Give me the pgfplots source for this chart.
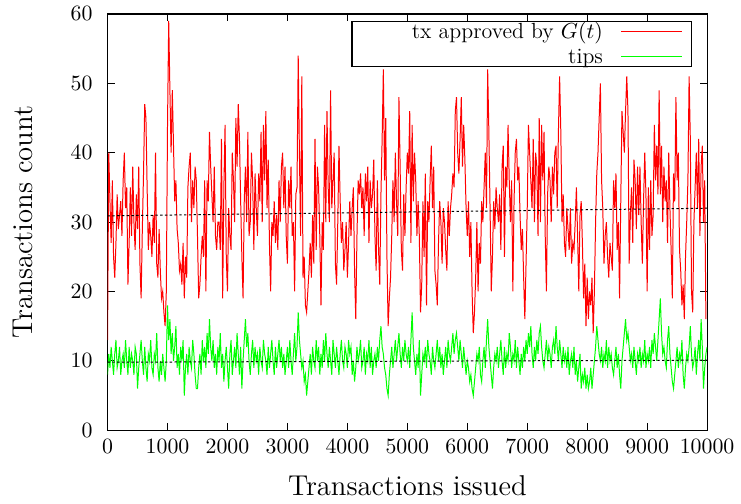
\documentclass[border=0pt]{standalone}
\usepackage{pgfplots}
\usepackage{pgfplotstable}
\pgfplotsset{compat=1.18}
\usetikzlibrary{calc}
% red: tx approved by G(t), one value every 20 transactions (0..10000)
\pgfplotstableread[header=false,row sep=\\]{
13\\40\\33\\27\\36\\25\\22\\27\\34\\29\\31\\33\\28\\36\\40\\32\\35\\21\\27\\35\\28\\38\\30\\26\\34\\
29\\38\\24\\19\\29\\37\\47\\45\\35\\26\\30\\28\\25\\31\\27\\40\\24\\22\\29\\23\\19\\20\\17\\15\\20\\
44\\59\\49\\40\\49\\41\\33\\36\\29\\27\\23\\24\\21\\27\\19\\25\\22\\35\\38\\40\\30\\36\\32\\38\\36\\
28\\19\\21\\25\\28\\25\\36\\20\\36\\33\\43\\38\\34\\30\\38\\28\\26\\30\\30\\26\\42\\19\\35\\44\\25\\
20\\32\\28\\26\\40\\36\\30\\45\\38\\47\\42\\33\\25\\19\\33\\38\\30\\43\\28\\30\\40\\36\\26\\37\\32\\
28\\37\\33\\43\\30\\44\\36\\46\\32\\39\\27\\20\\30\\28\\33\\27\\31\\26\\36\\30\\38\\40\\32\\38\\28\\
24\\36\\32\\38\\28\\30\\20\\34\\35\\54\\40\\28\\51\\22\\25\\18\\17\\20\\23\\27\\22\\31\\24\\42\\26\\
38\\35\\28\\18\\30\\26\\44\\30\\46\\35\\30\\49\\32\\36\\40\\24\\21\\30\\41\\33\\27\\30\\23\\26\\30\\
22\\27\\33\\28\\32\\35\\23\\16\\28\\36\\34\\37\\32\\35\\28\\37\\33\\38\\27\\36\\32\\34\\39\\28\\23\\
36\\26\\21\\34\\42\\52\\36\\45\\25\\15\\19\\22\\28\\36\\30\\40\\33\\28\\48\\38\\26\\23\\34\\28\\35\\
40\\37\\46\\27\\44\\33\\40\\36\\28\\33\\28\\17\\21\\33\\25\\37\\18\\33\\30\\36\\41\\32\\38\\23\\21\\
18\\27\\33\\30\\24\\32\\30\\26\\23\\33\\28\\32\\34\\37\\35\\46\\48\\40\\37\\42\\48\\38\\44\\39\\32\\
28\\33\\25\\30\\20\\14\\17\\22\\30\\20\\27\\24\\33\\30\\35\\40\\32\\52\\43\\32\\20\\25\\33\\29\\35\\
32\\30\\34\\26\\38\\41\\25\\38\\35\\44\\36\\30\\36\\20\\33\\40\\42\\36\\38\\31\\26\\29\\22\\16\\24\\
32\\44\\40\\36\\32\\42\\30\\40\\38\\28\\45\\30\\44\\36\\43\\28\\20\\34\\38\\36\\30\\38\\34\\40\\41\\
32\\43\\51\\43\\30\\34\\27\\25\\32\\29\\26\\32\\24\\27\\26\\30\\35\\28\\20\\31\\33\\27\\19\\24\\15\\
22\\16\\20\\18\\22\\14\\20\\30\\37\\40\\45\\50\\36\\32\\24\\28\\30\\25\\22\\27\\25\\23\\36\\32\\37\\
26\\30\\19\\33\\46\\43\\40\\46\\51\\46\\24\\31\\35\\27\\39\\36\\29\\38\\31\\38\\30\\24\\33\\40\\34\\
20\\35\\26\\36\\28\\31\\44\\36\\41\\34\\49\\34\\41\\30\\38\\33\\36\\27\\40\\32\\26\\19\\37\\33\\48\\
36\\40\\26\\23\\18\\21\\16\\25\\30\\36\\51\\42\\20\\17\\30\\35\\40\\32\\42\\28\\38\\41\\30\\36\\16\\
}\redtab
% green: tips
\pgfplotstableread[header=false,row sep=\\]{
8\\11\\9\\12\\10\\8\\11\\13\\9\\10\\12\\8\\10\\11\\9\\13\\10\\8\\12\\9\\11\\10\\8\\12\\11\\
6\\9\\11\\13\\10\\8\\12\\9\\7\\11\\10\\13\\9\\8\\11\\10\\14\\9\\7\\10\\8\\11\\9\\7\\10\\
18\\13\\16\\11\\14\\10\\12\\15\\9\\11\\8\\12\\10\\13\\5\\9\\11\\8\\12\\10\\9\\13\\11\\8\\6\\
6\\9\\11\\8\\13\\10\\12\\9\\14\\11\\16\\12\\10\\13\\9\\11\\8\\12\\10\\14\\9\\11\\7\\10\\12\\
9\\6\\11\\13\\8\\10\\12\\9\\14\\11\\8\\12\\6\\10\\13\\16\\12\\14\\10\\8\\11\\13\\9\\12\\10\\
11\\8\\12\\10\\9\\13\\11\\10\\8\\12\\9\\11\\13\\10\\8\\12\\9\\11\\13\\10\\12\\9\\11\\8\\10\\
12\\9\\13\\10\\8\\11\\14\\10\\12\\17\\13\\11\\9\\10\\7\\8\\5\\7\\9\\11\\8\\12\\10\\9\\13\\
10\\12\\8\\11\\9\\13\\10\\14\\11\\9\\12\\10\\8\\13\\11\\9\\12\\10\\8\\11\\13\\10\\9\\12\\11\\
9\\13\\11\\12\\8\\10\\7\\9\\12\\10\\11\\13\\9\\10\\12\\8\\11\\10\\13\\9\\12\\8\\10\\11\\9\\
12\\10\\13\\15\\12\\11\\9\\8\\6\\5\\8\\10\\12\\9\\11\\13\\10\\12\\14\\11\\9\\12\\10\\13\\11\\
10\\12\\9\\13\\17\\12\\10\\8\\11\\9\\13\\5\\8\\11\\10\\12\\9\\13\\11\\10\\8\\12\\10\\9\\11\\
13\\10\\12\\9\\11\\8\\10\\12\\9\\13\\11\\10\\12\\14\\11\\13\\14\\12\\10\\13\\11\\9\\12\\10\\8\\
10\\9\\7\\8\\6\\5\\7\\9\\11\\10\\12\\8\\7\\10\\12\\9\\13\\16\\12\\10\\8\\6\\9\\11\\10\\
12\\9\\11\\13\\10\\8\\12\\9\\11\\10\\14\\12\\9\\11\\10\\13\\9\\12\\10\\8\\11\\9\\12\\10\\13\\
11\\14\\12\\15\\11\\9\\12\\10\\13\\11\\14\\15\\12\\10\\9\\11\\13\\10\\12\\11\\9\\12\\13\\11\\15\\
12\\10\\13\\11\\9\\12\\10\\11\\9\\12\\8\\10\\11\\9\\12\\8\\10\\7\\9\\11\\6\\8\\7\\9\\6\\
8\\6\\7\\9\\6\\8\\10\\12\\15\\13\\11\\10\\12\\9\\11\\10\\13\\9\\12\\10\\11\\9\\8\\10\\12\\
9\\11\\8\\6\\10\\12\\14\\16\\13\\14\\12\\10\\11\\9\\12\\10\\8\\11\\10\\12\\9\\11\\10\\13\\9\\
11\\10\\12\\9\\13\\11\\14\\12\\10\\13\\16\\19\\14\\11\\12\\10\\9\\13\\15\\11\\9\\7\\6\\8\\10\\
12\\9\\11\\10\\13\\8\\6\\9\\11\\10\\12\\15\\11\\9\\10\\12\\8\\11\\13\\10\\16\\12\\6\\9\\11\\12\\
}\greentab
\begin{document}
\begin{tikzpicture}
\begin{axis}[
  scale only axis,
  width=301pt, height=209pt,
  xmin=0, xmax=10000, ymin=0, ymax=60,
  xtick={0,1000,...,10000},
  ytick={0,10,...,60},
  scaled x ticks=false,
  /pgf/number format/1000 sep={},
  tick align=inside,
  major tick length=3.5pt,
  every tick/.style={black, line width=0.5pt},
  axis line style={black, line width=0.6pt},
  ticklabel style={font=\fontsize{10.8}{13}\selectfont},
  yticklabel style={xshift=-4pt},
  xticklabel style={yshift=-1pt},
  xlabel={Transactions issued},
  ylabel={Transactions count},
  label style={font=\fontsize{14.4}{17}\selectfont},
  xlabel style={at={(axis description cs:0.5,0)}, anchor=center, yshift=-28pt},
  ylabel style={at={(axis description cs:0,0.5)}, anchor=center, xshift=0pt, yshift=42.5pt},
  legend plot pos=right,
  legend cell align=right,
  legend style={
    at={(0.975,0.983)}, anchor=north east,
    draw, line width=0.6pt, fill=white,
    font=\fontsize{11}{12}\selectfont,
    inner xsep=4.5pt, inner ysep=0.2pt, row sep=3.1pt, column sep=9pt,
    nodes={inner sep=0pt},
  },
  legend image code/.code={%
    \draw[#1, line width=0.5pt] plot coordinates {(0pt,0pt) (30.5pt,0pt)};},
]
\addplot[red, line width=0.5pt] table[x expr=\coordindex*20, y index=0] {\redtab};
\addlegendentry{\makebox[121.5pt][r]{\rule[-2.6pt]{0pt}{10.4pt}tx approved by $G(t)$}}
\addplot[green, line width=0.5pt] table[x expr=\coordindex*20, y index=0] {\greentab};
\addlegendentry{\makebox[121.5pt][r]{\rule[-2.6pt]{0pt}{10.4pt}tips}}
\addplot[black, line width=0.5pt, dash pattern=on 1.2pt off 1.2pt, forget plot] coordinates {(0,30.9) (10000,32.0)};
\addplot[black, line width=0.5pt, dash pattern=on 1.2pt off 1.2pt, forget plot] coordinates {(0,9.8) (10000,10.1)};
\end{axis}
\path ($(current axis.south west)+(-54pt,-37pt)$) rectangle ($(current axis.north east)+(15.5pt,7pt)$);
\end{tikzpicture}
\end{document}
